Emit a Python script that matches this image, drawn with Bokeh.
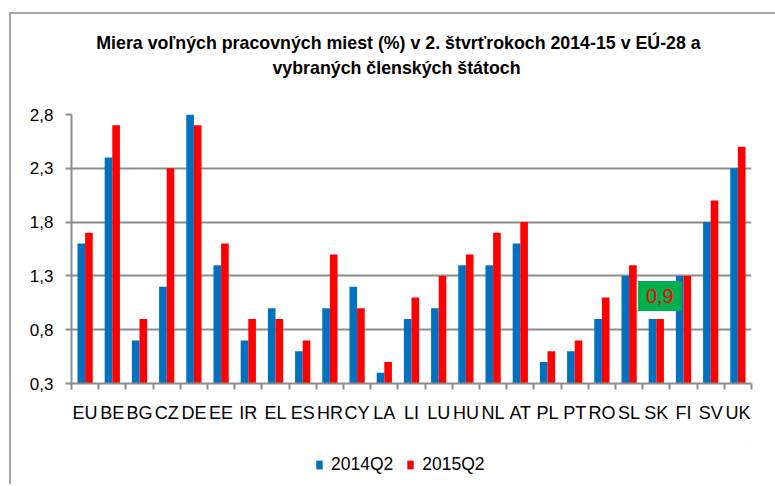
import numpy as np
from bokeh.plotting import figure
from bokeh.models import (FixedTicker, CustomJSTickFormatter, Label, Legend, LegendItem,
                          ColumnDataSource, Range1d, Div)
from bokeh.layouts import column, row
from bokeh.embed import file_html
from bokeh.resources import INLINE

categories = ["EU", "BE", "BG", "CZ", "DE", "EE", "IR", "EL", "ES", "HR", "CY", "LA", "LI",
              "LU", "HU", "NL", "AT", "PL", "PT", "RO", "SL", "SK", "FI", "SV", "UK"]
v2014 = [1.6, 2.4, 0.7, 1.2, 2.8, 1.4, 0.7, 1.0, 0.6, 1.0, 1.2, 0.4, 0.9,
         1.0, 1.4, 1.4, 1.6, 0.5, 0.6, 0.9, 1.3, 0.9, 1.3, 1.8, 2.3]
v2015 = [1.7, 2.7, 0.9, 2.3, 2.7, 1.6, 0.9, 0.9, 0.7, 1.5, 1.0, 0.5, 1.1,
         1.3, 1.5, 1.7, 1.8, 0.6, 0.7, 1.1, 1.4, 0.9, 1.3, 2.0, 2.5]
series_names = ["2014Q2", "2015Q2"]
y_ticks = [0.3, 0.8, 1.3, 1.8, 2.3, 2.8]
title_lines = ["Miera voľných pracovných miest (%) v 2. štvrťrokoch 2014-15 v EÚ-28 a",
               "vybraných členských štátoch"]
highlight_cat = "SK"
highlight_val = 0.9

FONT = "Liberation Sans"
GRID = "#8c8c8c"
FRAME = "#a6a6a6"
BLUE = "#0070c0"
RED = "#ff0000"
LEFT = 12          # width of the left frame strip
W = 763            # width of each figure
FW = 680           # plot frame width
TOPH = 14          # top frame strip height
TH = 90            # title figure height
PH = 336           # chart figure height
LH = 44            # legend figure height

# ---------------- frame strips ----------------
top_strip = Div(width=LEFT + W, height=TOPH, margin=0, styles={
    "background": f"linear-gradient(to right, #ffffff 9px, {FRAME} 9px) 0 12px / 100% 2px no-repeat, #ffffff"})
left_strip = Div(width=LEFT, height=TH + PH + LH, margin=0, styles={
    "background": f"linear-gradient(to right, #ffffff 9px, {FRAME} 9px, {FRAME} 11px, #ffffff 11px)"})

# ---------------- title figure ----------------
tf = figure(width=W, height=TH, output_backend="svg", toolbar_location=None,
            x_range=Range1d(0, FW), y_range=Range1d(0, TH),
            x_axis_type=None, y_axis_type=None, min_border=0)
tf.outline_line_color = None
tf.grid.visible = False
for ln, (cx, cy) in zip(title_lines, [(327, 61.5), (325, 37)]):
    tf.add_layout(Label(x=cx, y=cy, text=ln, text_align="center", text_baseline="middle",
                        text_font=FONT, text_font_size="17.8px", text_font_style="bold",
                        text_color="black"))

# ---------------- main chart ----------------
n = len(categories)
idx = np.arange(n)
bw = 0.28
src = ColumnDataSource(dict(
    cat=categories,
    x1=idx + 0.5 - bw / 2,
    x2=idx + 0.5 + bw / 2,
    a=v2014, b=v2015,
))

p = figure(width=W, height=PH, output_backend="svg", toolbar_location=None,
           x_range=Range1d(0, n), y_range=Range1d(0.3, 2.8),
           min_border_left=59, min_border_right=W - 59 - FW, min_border_top=10,
           min_border_bottom=57)
p.outline_line_color = None

r1 = p.vbar(x="x1", top="a", bottom=0.3, width=bw, source=src, fill_color=BLUE, line_color=None)
r2 = p.vbar(x="x2", top="b", bottom=0.3, width=bw, source=src, fill_color=RED, line_color=None)

p.xaxis.ticker = FixedTicker(ticks=list(idx + 0.5), minor_ticks=list(range(n + 1)))
p.xaxis.major_label_overrides = {float(i + 0.5): c for i, c in enumerate(categories)}
p.xaxis.major_tick_line_color = None
p.xaxis.minor_tick_line_color = GRID
p.xaxis.minor_tick_line_width = 2
p.xaxis.minor_tick_out = 6
p.xaxis.minor_tick_in = 0
p.xaxis.axis_line_color = GRID
p.xaxis.axis_line_width = 2
p.xaxis.major_label_text_font = FONT
p.xaxis.major_label_text_font_size = "18px"
p.xaxis.major_label_text_color = "black"
p.xaxis.major_label_standoff = 13

p.yaxis.ticker = FixedTicker(ticks=y_ticks)
p.yaxis.formatter = CustomJSTickFormatter(code="return tick.toFixed(1).replace('.', ',');")
p.yaxis.major_tick_line_color = GRID
p.yaxis.major_tick_line_width = 2
p.yaxis.major_tick_out = 6
p.yaxis.major_tick_in = 0
p.yaxis.minor_tick_line_color = None
p.yaxis.axis_line_color = GRID
p.yaxis.axis_line_width = 2
p.yaxis.major_label_text_font = FONT
p.yaxis.major_label_text_font_size = "17px"
p.yaxis.major_label_text_color = "black"
p.yaxis.major_label_standoff = 12

p.xgrid.grid_line_color = None
p.ygrid.ticker = FixedTicker(ticks=y_ticks)
p.ygrid.grid_line_color = GRID
p.ygrid.grid_line_width = 2

p.add_layout(Label(x=categories.index(highlight_cat) + 0.63, y=highlight_val, y_offset=23,
                   text=f"{highlight_val:.1f}".replace(".", ","), text_align="center",
                   text_baseline="middle", text_font=FONT, text_font_size="20px",
                   text_color=RED, background_fill_color="#00b050", padding=8))

# ---------------- legend figure ----------------
lf = figure(width=W, height=LH, output_backend="svg", toolbar_location=None,
            x_range=Range1d(0, 1), y_range=Range1d(0, 1),
            x_axis_type=None, y_axis_type=None, min_border=0)
lf.outline_line_color = None
lf.grid.visible = False
# legend proxies (kept outside the visible range)
g1 = lf.vbar(x=[5], top=[5], bottom=[4], width=0.1, fill_color=BLUE, line_color=None)
g2 = lf.vbar(x=[5], top=[5], bottom=[4], width=0.1, fill_color=RED, line_color=None)
legend = Legend(items=[LegendItem(label=series_names[0], renderers=[g1]),
                       LegendItem(label=series_names[1], renderers=[g2])],
                location=(244, 9), orientation="horizontal",
                glyph_width=8, glyph_height=11, label_standoff=8, spacing=13,
                padding=0, margin=0, border_line_color=None, background_fill_alpha=0,
                label_text_font=FONT, label_text_font_size="17.5px", label_text_color="black")
lf.add_layout(legend, "center")

layout = column(top_strip, row(left_strip, column(tf, p, lf)))

open("out.html", "w").write(file_html(layout, INLINE))
